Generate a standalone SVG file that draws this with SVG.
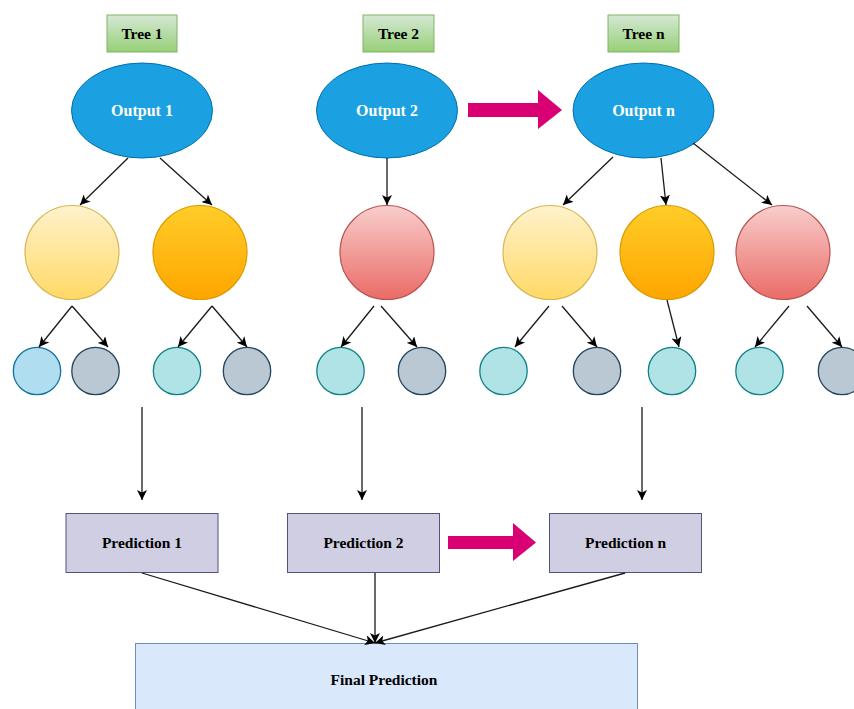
<svg xmlns="http://www.w3.org/2000/svg" width="854" height="709" viewBox="0 0 854 709">
  <style>
    text { font-family: "Liberation Serif", "Times New Roman", serif; font-weight: bold; text-anchor: middle; }
    .lbl { font-size: 15.5px; fill: #000; }
    .out { font-size: 16px; fill: #fff; }
    .tree { fill: url(#gGreen); stroke: #82b366; stroke-width: 1; }
    .output { fill: #1ba1e2; stroke: #006eaf; stroke-width: 1; }
    .yellow { fill: url(#gYellow); stroke: #d6b656; stroke-width: 1.2; }
    .orange { fill: url(#gOrange); stroke: #d79b00; stroke-width: 1.2; }
    .red { fill: url(#gRed); stroke: #b85450; stroke-width: 1.2; }
    .blue { fill: #b1ddf0; stroke: #10739e; stroke-width: 1.3; }
    .gray { fill: #bac8d3; stroke: #23445d; stroke-width: 1.3; }
    .teal { fill: #b0e3e6; stroke: #0e8088; stroke-width: 1.3; }
    .pred { fill: #d0cee2; stroke: #56517e; stroke-width: 1; }
    .final { fill: #dae8fc; stroke: #6c8ebf; stroke-width: 1; }
    .edge { stroke: #1a1a1a; stroke-width: 1.3; fill: none; marker-end: url(#arrow); }
    .big { fill: #d80073; stroke: none; }
  </style>
  <defs>
    <linearGradient id="gGreen" x1="0" y1="0" x2="0" y2="1">
      <stop offset="0" stop-color="#d5e8d4"/>
      <stop offset="1" stop-color="#97d077"/>
    </linearGradient>
    <linearGradient id="gYellow" x1="0" y1="0" x2="0" y2="1">
      <stop offset="0" stop-color="#fff2cc"/>
      <stop offset="1" stop-color="#ffd966"/>
    </linearGradient>
    <linearGradient id="gOrange" x1="0" y1="0" x2="0" y2="1">
      <stop offset="0" stop-color="#ffcd28"/>
      <stop offset="1" stop-color="#ffa500"/>
    </linearGradient>
    <linearGradient id="gRed" x1="0" y1="0" x2="0" y2="1">
      <stop offset="0" stop-color="#f8cecc"/>
      <stop offset="1" stop-color="#ea6b66"/>
    </linearGradient>
    <marker id="arrow" markerUnits="userSpaceOnUse" markerWidth="12" markerHeight="10" refX="10" refY="5" orient="auto">
      <path d="M0,0 L10,5 L0,10 L2.5,5 Z" fill="#000"/>
    </marker>
  </defs>

  <!-- tree labels -->
  <g id="tree1"><rect class="tree" x="107" y="15" width="70" height="37"/><text class="lbl" x="142" y="38.5">Tree 1</text></g>
  <g id="tree2"><rect class="tree" x="363" y="15" width="71" height="37"/><text class="lbl" x="398.5" y="38.5">Tree 2</text></g>
  <g id="treen"><rect class="tree" x="608" y="15" width="71" height="37"/><text class="lbl" x="643.5" y="38.5">Tree n</text></g>

  <!-- outputs -->
  <g id="output1"><ellipse class="output" cx="142" cy="110.5" rx="70.5" ry="47.5"/><text class="out" x="142" y="116">Output 1</text></g>
  <g id="output2"><ellipse class="output" cx="387" cy="110.5" rx="70.5" ry="47.5"/><text class="out" x="387" y="116">Output 2</text></g>
  <g id="outputn"><ellipse class="output" cx="643.5" cy="110.5" rx="70.5" ry="47.5"/><text class="out" x="643.5" y="116">Output n</text></g>

  <!-- split nodes -->
  <g id="n1a"><circle class="yellow" cx="72" cy="252.5" r="47"/></g>
  <g id="n1b"><circle class="orange" cx="200" cy="252.5" r="47"/></g>
  <g id="n2a"><circle class="red" cx="387" cy="252.5" r="47"/></g>
  <g id="nna"><circle class="yellow" cx="550" cy="252.5" r="47"/></g>
  <g id="nnb"><circle class="orange" cx="667" cy="252.5" r="47"/></g>
  <g id="nnc"><circle class="red" cx="783" cy="252.5" r="47"/></g>

  <!-- leaves -->
  <g id="l1"><circle class="blue" cx="37" cy="371" r="23.7"/></g>
  <g id="l2"><circle class="gray" cx="95.5" cy="371" r="23.7"/></g>
  <g id="l3"><circle class="teal" cx="177" cy="371" r="23.7"/></g>
  <g id="l4"><circle class="gray" cx="247" cy="371" r="23.7"/></g>
  <g id="l5"><circle class="teal" cx="340.5" cy="371" r="23.7"/></g>
  <g id="l6"><circle class="gray" cx="422" cy="371" r="23.7"/></g>
  <g id="l7"><circle class="teal" cx="503.5" cy="371" r="23.7"/></g>
  <g id="l8"><circle class="gray" cx="597" cy="371" r="23.7"/></g>
  <g id="l9"><circle class="teal" cx="672" cy="371" r="23.7"/></g>
  <g id="l10"><circle class="teal" cx="759.5" cy="371" r="23.7"/></g>
  <g id="l11"><circle class="gray" cx="842" cy="371" r="23.7"/></g>

  <!-- predictions -->
  <g id="pred1"><rect class="pred" x="66" y="513.5" width="152" height="59"/><text class="lbl" x="142" y="548">Prediction 1</text></g>
  <g id="pred2"><rect class="pred" x="287.5" y="513.5" width="152" height="59"/><text class="lbl" x="363.5" y="548">Prediction 2</text></g>
  <g id="predn"><rect class="pred" x="549.5" y="513.5" width="152" height="59"/><text class="lbl" x="625.5" y="548">Prediction n</text></g>

  <g id="final"><rect class="final" x="135.5" y="643.5" width="502" height="80"/><text class="lbl" x="384" y="685">Final Prediction</text></g>

  <!-- connectors -->
  <g id="connectors">
    <line class="edge" x1="128" y1="158" x2="80" y2="205"/>
    <line class="edge" x1="160" y1="158" x2="212" y2="205"/>
    <line class="edge" x1="387" y1="158" x2="387" y2="205"/>
    <line class="edge" x1="613" y1="157" x2="563" y2="205"/>
    <line class="edge" x1="661" y1="158" x2="666" y2="205"/>
    <line class="edge" x1="693" y1="143" x2="772" y2="205"/>

    <line class="edge" x1="72" y1="306" x2="39" y2="347"/>
    <line class="edge" x1="72" y1="306" x2="108" y2="347"/>
    <line class="edge" x1="212" y1="306" x2="178" y2="347"/>
    <line class="edge" x1="212" y1="306" x2="247" y2="347"/>
    <line class="edge" x1="374" y1="306" x2="341" y2="347"/>
    <line class="edge" x1="381" y1="306" x2="417" y2="347"/>
    <line class="edge" x1="549" y1="306" x2="515" y2="347"/>
    <line class="edge" x1="562" y1="306" x2="597" y2="347"/>
    <line class="edge" x1="667" y1="300" x2="679" y2="347"/>
    <line class="edge" x1="789" y1="306" x2="755" y2="347"/>
    <line class="edge" x1="807" y1="306" x2="842" y2="347"/>

    <line class="edge" x1="142" y1="407" x2="142" y2="500"/>
    <line class="edge" x1="362" y1="407" x2="362" y2="500"/>
    <line class="edge" x1="642" y1="407" x2="642" y2="500"/>

    <line class="edge" x1="142" y1="573" x2="375" y2="643"/>
    <line class="edge" x1="375" y1="573" x2="375" y2="643"/>
    <line class="edge" x1="625" y1="573" x2="375" y2="643"/>

    <path class="big" d="M468,103 H538 V90 L562,110 L538,129 V117 H468 Z"/>
    <path class="big" d="M448,536 H513 V523 L536,542.5 L513,561 V549 H448 Z"/>
  </g>
</svg>
